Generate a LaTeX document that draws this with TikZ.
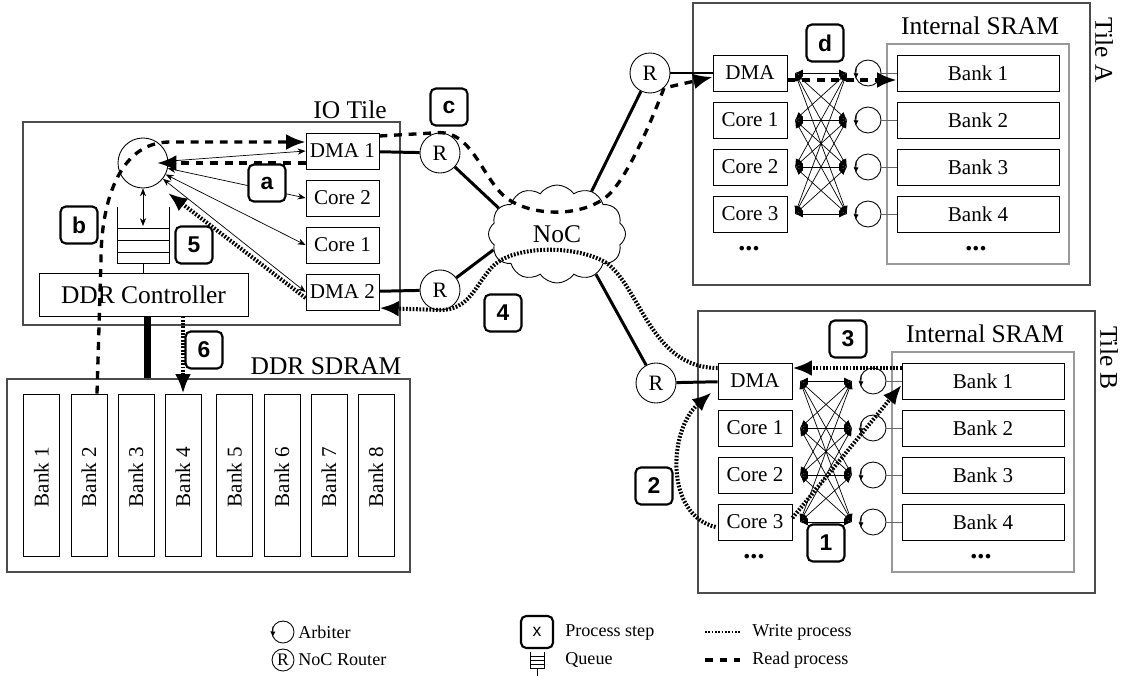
\documentclass[tikz,border=0pt]{standalone}
\usepackage{fontspec}
\setmainfont{Liberation Serif}
\setsansfont{Liberation Sans}
\usetikzlibrary{arrows.meta,shapes.symbols}

\begin{document}
\begin{tikzpicture}[
    x=0.02cm, y=-0.02cm,
    tilebox/.style={draw=black!70, line width=0.7pt},
    srambox/.style={draw=black!40, line width=0.7pt},
    unitbox/.style={draw, line width=0.5pt, inner sep=0pt, font=\fontsize{12}{14}\selectfont},
    titlelbl/.style={font=\fontsize{14.5}{16}\selectfont, inner sep=0pt},
    arbcirc/.style={circle, draw, line width=0.5pt, inner sep=0pt, minimum size=26*\px},
    router/.style={circle, draw, line width=0.5pt, inner sep=0pt, minimum size=40*\px, font=\fontsize{12.5}{14}\selectfont},
    steplbl/.style={draw, fill=white, rounded corners=3pt, line width=1.2pt, minimum size=37*\px, inner sep=0pt, font=\sffamily\bfseries\fontsize{13}{15}\selectfont},
    legendlbl/.style={anchor=west, inner sep=0pt, font=\fontsize{10.3}{12}\selectfont},
    dotslbl/.style={inner sep=0pt, font=\bfseries\fontsize{16}{16}\selectfont},
    link/.style={line width=1.7pt},
    xbar/.style={line width=0.4pt, {Latex[length=4.5pt,width=4pt]}-{Latex[length=4.5pt,width=4pt]}},
    thinarr/.style={line width=0.4pt, {Stealth[length=4.5pt,width=3.5pt]}-{Stealth[length=4.5pt,width=3.5pt]}},
    readp/.style={line width=1.9pt, dash pattern=on 4.5pt off 3.8pt},
    writep/.style={line width=2.3pt, dash pattern=on 1pt off 0.9pt},
    bigtip/.style={-{Latex[length=11pt,width=9pt]}}
  ]
  \def\px{0.02cm}
  \useasboundingbox (0,0) rectangle (1122,696);

  % IO tile
  \node[tilebox, minimum width=377*\px, minimum height=203*\px] (iotile) at (211.5,223.5) {};
  \node[titlelbl] (iolbl) at (350,110) {IO Tile};
  \node[circle, draw, line width=0.5pt, inner sep=0pt, minimum size=50*\px] (arb) at (143,163) {};
  \draw (117,207) -- (117,263) -- (169,263) -- (169,207);
  \foreach \y in {228,240,252} {
    \draw (117,\y) -- (169,\y);
  }
  \coordinate (qtop) at (143,226);
  \coordinate (qbot) at (143,263);
  \draw[thinarr] (arb) -- (qtop);
  \node[unitbox, minimum width=209*\px, minimum height=43*\px, font=\fontsize{14.5}{16}\selectfont] (ddrctl) at (143.5,294.5) {DDR Controller};
  \draw (qbot) -- (qbot |- ddrctl.north);
  \foreach \n/\lbl/\y in {dma1/DMA 1/151, core2/Core 2/198, core1/Core 1/245, dma2/DMA 2/292} {
    \node[unitbox, minimum width=73*\px, minimum height=36*\px] (\n) at (342.5,\y) {\lbl};
    \draw[thinarr] (arb) -- (\n.west);
  }
  \node[router] (r1) at (440,153) {$\mathrm{R}$};
  \node[router] (r2) at (440,290) {$\mathrm{R}$};

  % NoC
  \node[cloud, draw, line width=0.5pt, cloud puffs=12, cloud puff arc=110, aspect=1.4,
        minimum width=137*\px, minimum height=98*\px, inner sep=0pt,
        font=\fontsize{14.5}{16}\selectfont] (noc) at (557,234) {NoC};

  % compute tiles
  \foreach \t/\dx/\dy in {A/0/0, B/5/308} {
    \begin{scope}[shift={(\dx,\dy)}]
      \node[tilebox, minimum width=397*\px, minimum height=282*\px] (tile\t) at (891.5,144) {};
      \node[titlelbl, rotate=-90] (tilelbl\t) at (1104,50) {Tile \t};
      \node[srambox, minimum width=182*\px, minimum height=220*\px] (sram\t) at (978,154) {};
      \node[titlelbl] (sramlbl\t) at (980,26) {Internal SRAM};
      \foreach \n/\lbl/\k in {dma/DMA/1, core1/Core 1/2, core2/Core 2/3, core3/Core 3/4} {
        \node[unitbox, minimum width=74*\px, minimum height=36*\px] (\n\t) at (750,{26+47*\k}) {\lbl};
        \coordinate (xl\k\t) at (795,{26+47*\k});
        \coordinate (xr\k\t) at (847,{26+47*\k});
        \node[arbcirc] (arb\k\t) at (868,{26+47*\k}) {};
        \draw[-{Latex[length=3pt,width=3pt]}] (arb\k\t.150) -- (arb\k\t.205);
        \node[unitbox, minimum width=162*\px, minimum height=36*\px] (bank\k\t) at (978,{26+47*\k}) {Bank \k};
        \draw[black!60] (arb\k\t) -- (bank\k\t);
      }
      \foreach \i in {1,...,4} {
        \foreach \j in {1,...,4} {
          \draw[xbar] (xl\i\t) -- (xr\j\t);
        }
      }
      \node[dotslbl] (dotsl\t) at (749,249) {...};
      \node[dotslbl] (dotsr\t) at (976,249) {...};
    \end{scope}
  }
  \node[router] (rA) at (650,73) {$\mathrm{R}$};
  \node[router] (rB) at (656,383) {$\mathrm{R}$};

  % DDR SDRAM
  \node[tilebox, minimum width=403*\px, minimum height=193*\px] (ddr) at (208.5,475.5) {};
  \node[titlelbl] (ddrlbl) at (326,366) {DDR SDRAM};
  \foreach \k/\x in {1/41.5, 2/89, 3/136, 4/183, 5/234.5, 6/282, 7/329, 8/376} {
    \node[unitbox, minimum width=36*\px, minimum height=162*\px] (dbank\k) at (\x,475) {};
    \node[rotate=90, font=\fontsize{12}{14}\selectfont] (dbanklbl\k) at (\x,477) {Bank \k};
  }

  % links
  \coordinate (bustop) at ([xshift=4*\px]ddrctl.south);
  \draw[line width=4.5pt] (bustop) -- (bustop |- ddr.north);
  \draw[link] (dma1) -- (r1);
  \draw[link] (dma2) -- (r2);
  \draw[link] (r1) -- (noc.156);
  \draw[link] (r2) -- (noc.194);
  \draw[link] (rA) -- (noc.51);
  \draw[link] (rB) -- (noc.314);
  \draw[link] (rA) -- (dmaA);
  \draw[link] (rB) -- (dmaB);

  % read process
  \draw[readp, bigtip] ([yshift=-12*\px]dma1.west) -- ([xshift=14*\px]arb.center);
  \draw[readp, bigtip] ([xshift=8*\px]dbank2.north) -- (101,260)
    .. controls (101,207) and (117,142) .. (170,142) -- ([yshift=9*\px]dma1.west);
  \draw[readp, bigtip] ([yshift=15*\px]dma1.east) -- (r1.north)
    .. controls (470,133) and (480,170) .. (500,192)
    .. controls (520,215) and (575,220) .. (605,198)
    .. controls (625,183) and (650,125) .. (664,88) -- ([yshift=-4*\px]dmaA.west);
  \draw[readp, bigtip] ([yshift=-7*\px]dmaA.east) -- ([yshift=-7*\px]bank1A.west);

  % write process
  \draw[writep, bigtip] ([yshift=4*\px]core3B.east) -- ([yshift=-4*\px]bank1B.west);
  \draw[writep, bigtip] ([shift={(-2,5)}]core3B.west)
    .. controls (665,515) and (668,430) .. ([shift={(-6,-7)}]dmaB.south west);
  \draw[writep, bigtip] ([yshift=13*\px]bank1B.west) -- ([yshift=13*\px]dmaB.east);
  \draw[writep, bigtip] ([yshift=13*\px]dmaB.west)
    .. controls (650,368) and (640,285) .. (605,262)
    .. controls (575,245) and (515,245) .. (493,266)
    .. controls (475,285) and (470,310) .. (440,310) -- ([yshift=-16*\px]dma2.east);
  \draw[writep, bigtip] ([yshift=-6*\px]dma2.west) -- ([shift={(25,30)}]arb.center);
  \draw[writep, bigtip] (ddrctl.south -| dbank4) -- (dbank4.north);

  % steps
  \foreach \n/\x/\y in {a/267/183, b/79/225, c/449/107, d/825/43, 1/826/543,
                        2/654/486, 3/848/339, 4/503/313, 5/194/245, 6/204/350} {
    \node[steplbl] (step\n) at (\x,\y) {\n};
  }

  % legend
  \node[arbcirc, minimum size=22*\px] (legarb) at (283,632) {};
  \draw[-{Latex[length=3pt,width=3pt]}] (legarb.150) -- (legarb.205);
  \node[legendlbl] (legarbtxt) at (298,632) {Arbiter};
  \node[router, minimum size=22*\px, font=\fontsize{10}{10}\selectfont] (legrt) at (283,660) {$\mathrm{R}$};
  \node[legendlbl] (legrttxt) at (298,660) {NoC Router};
  \node[steplbl, minimum size=32*\px, font=\sffamily\fontsize{10}{10}\selectfont] (legstep) at (537,632) {x};
  \node[legendlbl] (legsteptxt) at (565,632) {Process step};
  \draw (530,652) -- (530,668) -- (544,668) -- (544,652);
  \foreach \y in {656,660,664} {
    \draw (530,\y) -- (544,\y);
  }
  \coordinate (legqbot) at (537,668);
  \draw (legqbot) -- ++(0,8);
  \node[legendlbl] (legqtxt) at (565,660) {Queue};
  \coordinate (legw1) at (705,632);
  \coordinate (legw2) at (740,632);
  \draw[writep, line width=1.5pt] (legw1) -- (legw2);
  \node[legendlbl] (legwtxt) at (752,632) {Write process};
  \coordinate (legr1) at (705,660);
  \coordinate (legr2) at (740,660);
  \draw[readp] (legr1) -- (legr2);
  \node[legendlbl] (legrdtxt) at (752,660) {Read process};
\end{tikzpicture}
\end{document}
